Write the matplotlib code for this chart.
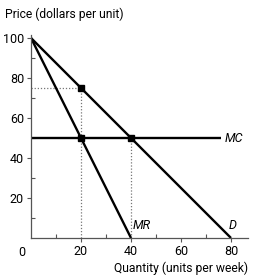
import matplotlib.pyplot as plt

plt.rcParams['font.family'] = ['Roboto', 'DejaVu Sans']

# demand and marginal revenue (quantity, price)
demand_q = [0, 80]
demand_p = [100, 0]
mr_q = [0, 40]
mr_p = [100, 0]
mc_q = [0, 76]
mc_p = [50, 50]
points_q = [20, 20, 40]
points_p = [75, 50, 50]

x_ticks = [20, 40, 60, 80]
y_ticks = [20, 40, 60, 80, 100]

fig = plt.figure(figsize=(2.59, 2.79), dpi=100)
ax = fig.add_axes([31 / 259, 41 / 279, 217 / 259, 203 / 279])

# dotted guide lines
ax.plot([0, 20], [75, 75], color='#777777', lw=0.9, ls=(0, (1, 1.5)))
ax.plot([20, 20], [0, 75], color='#777777', lw=0.9, ls=(0, (1, 1.5)))
ax.plot([40, 40], [0, 50], color='#777777', lw=0.9, ls=(0, (1, 1.5)))

ax.plot(demand_q, demand_p, color='black', lw=1.7, solid_capstyle='butt')
ax.plot(mr_q, mr_p, color='black', lw=1.7, solid_capstyle='butt')
ax.plot(mc_q, mc_p, color='black', lw=1.7, solid_capstyle='butt')
ax.plot(points_q, points_p, 's', color='black', ms=4)

ax.text(77.5, 50, 'MC', style='italic', fontsize=9, va='center', ha='left')
ax.text(40.5, 3, 'MR', style='italic', fontsize=9, va='bottom', ha='left')
ax.text(79, 3, 'D', style='italic', fontsize=9, va='bottom', ha='left')

ax.set_xlim(0, 86.8)
ax.set_ylim(0, 101.5)
ax.set_xticks(x_ticks)
ax.set_yticks(y_ticks)
ax.set_xticks([10, 30, 50, 70], minor=True)
ax.set_yticks([10, 30, 50, 70, 90], minor=True)
ax.tick_params(which='major', direction='out', length=3, width=0.8,
               color='#555555', labelsize=9, pad=2)
ax.tick_params(which='minor', direction='in', length=3, width=0.8,
               color='#555555')
for s in ['top', 'right']:
    ax.spines[s].set_visible(False)
for s in ['left', 'bottom']:
    ax.spines[s].set_color('#555555')
    ax.spines[s].set_linewidth(0.9)

fig.text(22 / 259, 1 - 252 / 279, '0', fontsize=9, ha='center', va='center')
fig.text(5 / 259, 1 - 14 / 279, 'Price (dollars per unit)', fontsize=8.7,
         ha='left', va='center')
fig.text(248 / 259, 1 - 268 / 279, 'Quantity (units per week)', fontsize=8.7,
         ha='right', va='center')

fig.savefig('out.png', dpi=100)
